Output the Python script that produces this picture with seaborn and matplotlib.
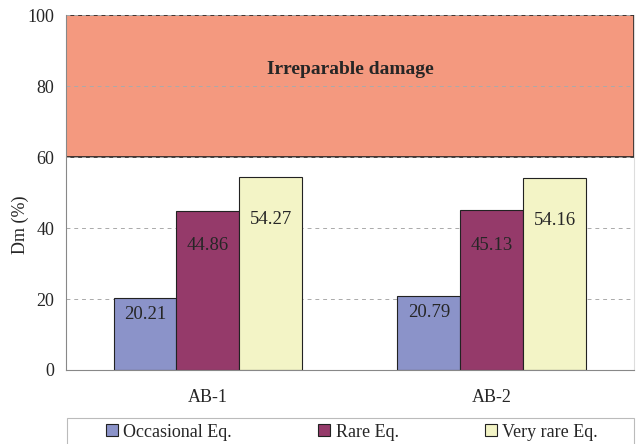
import numpy as np
import pandas as pd
import matplotlib
matplotlib.use("Agg")
import matplotlib.pyplot as plt
from matplotlib.patches import Rectangle
import seaborn as sns

# values
models = ["AB-1", "AB-2"]
levels = ["Occasional Eq.", "Rare Eq.", "Very rare Eq."]
occasional = [20.21, 20.79]
rare = [44.86, 45.13]
very_rare = [54.27, 54.16]
colors = ["#8B93C9", "#953A6A", "#F3F4C6"]

df = pd.DataFrame({
    "model": models * 3,
    "level": [levels[0]] * 2 + [levels[1]] * 2 + [levels[2]] * 2,
    "Dm": occasional + rare + very_rare,
})

sns.set_style("white")
plt.rcParams["font.family"] = ["Liberation Serif", "DejaVu Serif"]
plt.rcParams["font.size"] = 13

fig = plt.figure(figsize=(6.37, 4.44), dpi=100)
ax = fig.add_axes([0.1036, 0.1667, 0.8914, 0.7993])

# irreparable damage zone
ax.axhspan(60, 100, facecolor="#F4997F", edgecolor="#222222", linewidth=1.2, zorder=0.2)
ax.text(0.5, 84.6, "Irreparable damage", ha="center", va="center",
        fontsize=14, fontweight="bold", zorder=3)

sns.barplot(data=df, x="model", y="Dm", hue="level", palette=colors,
            width=0.665, saturation=1, edgecolor="#222222", linewidth=0.8,
            ax=ax, zorder=2)

for cont in ax.containers:
    for bar in cont:
        h = bar.get_height()
        ax.text(bar.get_x() + bar.get_width() / 2, h * 0.78, f"{h:.2f}",
                ha="center", va="center", fontsize=13.5, zorder=4)

ax.set_ylim(0, 100)
ax.set_xlim(-0.5, 1.5)
ax.set_yticks([0, 20, 40, 60, 80, 100])
ax.yaxis.grid(True, linestyle=(0, (4, 4)), color="#AAAAAA", linewidth=0.7)
ax.set_axisbelow(True)

ax.set_xticks([-0.5, 0.5, 1.5], minor=True)
ax.tick_params(axis="x", which="major", length=0, pad=14, labelsize=13)
ax.tick_params(axis="x", which="minor", length=5, color="#888888", direction="out")
ax.tick_params(axis="y", length=5, color="#888888", direction="out", labelsize=13)
ax.set_xlabel("")
ax.set_ylabel("Dm (%)", fontsize=13)
ax.yaxis.set_label_coords(-0.066, 0.41)

for side in ["left", "bottom"]:
    ax.spines[side].set_color("#888888")
    ax.spines[side].set_linewidth(0.8)
ax.spines["top"].set_visible(False)
ax.spines["right"].set_color("#DDDDDD")

handles, labels = ax.get_legend_handles_labels()
ax.legend_.remove()
fig.patches.append(Rectangle((67 / 637, -0.01), 567 / 637, 0.068,
                             transform=fig.transFigure, facecolor="white",
                             edgecolor="#BBBBBB", linewidth=0.8))
fig.legend(handles, labels, ncol=3, loc="center",
           bbox_to_anchor=(352 / 637, 1 - 432 / 444), frameon=False,
           handlelength=0.65, handleheight=0.65, handletextpad=0.3,
           columnspacing=4.8, fontsize=13, borderaxespad=0)

fig.savefig("out.png", dpi=100)
